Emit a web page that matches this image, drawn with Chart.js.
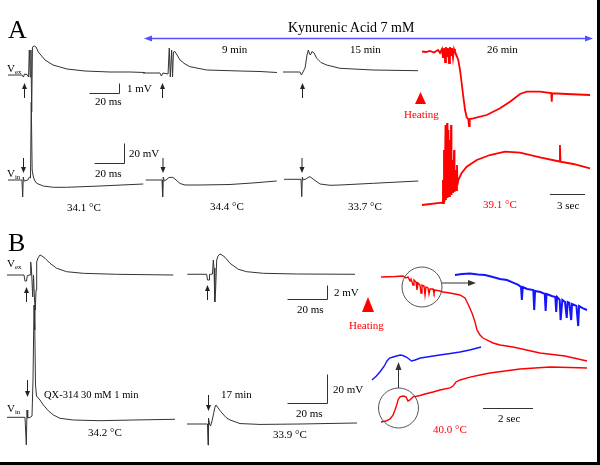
<!DOCTYPE html>
<html>
<head>
<meta charset="utf-8">
<script src="https://cdn.jsdelivr.net/npm/chart.js@4.4.1/dist/chart.umd.min.js"></script>
<style>
html, body { margin: 0; padding: 0; background: #fff; }
#wrap { position: relative; width: 600px; height: 465px; overflow: hidden; font-family: "Liberation Serif", "Times New Roman", serif; }
#wrap canvas { position: absolute; left: 0; top: 0; }
.lb { position: absolute; white-space: nowrap; line-height: 1; transform: translateY(-50%); color: #000; }
.lb sub { font-size: 0.62em; vertical-align: -0.3em; line-height: 0; }
</style>
</head>
<body>
<div id="wrap"><canvas id="fig" width="600" height="465"></canvas></div>
<script>
// ---- DATA (time in ms or s, potential in mV) -------------------------------------------------

// A, extracellular, control / 9 min / 15 min (ms, mV)
var aVexCtrlT = [0, 9.3, 10.3, 11, 12.7, 13.7, 14.2, 14.8, 15.3, 15.8, 16.3, 17.5, 18.7, 20.2, 24.7, 30, 39.3, 51.3, 68, 81.3, 91.3];
var aVexCtrlV = [-0.2, -0.2, -0.4, -0.1, -0.15, -0.4, 2.3, -0.4, 2.3, -3.9, 2.6, 2.7, 2.6, 2.1, 1.3, 0.8, 0.4, 0.2, 0.1, 0.1, 0.05];
var aVex9T = [2, 13.3, 14.3, 15.3, 18.7, 19.5, 20.2, 21.1, 21.7, 22.3, 23.3, 24.7, 26.7, 30, 33.3, 44.5, 66.7, 80, 91.3];
var aVex9V = [0, 0, -0.3, 0, -0.1, 2.5, -0.4, 2.3, -0.4, 2.1, 2.15, 1.8, 1.3, 0.9, 0.63, 0.3, 0.2, 0.15, 0.05];
var aVex15T = [0, 11.3, 12.3, 13.3, 14.7, 16, 16.9, 17.7, 18.3, 19.3, 20.7, 22.5, 25.3, 29.1, 38, 60, 90];
var aVex15V = [0.1, 0.1, -0.2, 0.1, 0.5, 1.8, 2.3, 1.9, 1.8, 2.15, 2.0, 1.47, 1.05, 0.8, 0.47, 0.3, 0.23];

// A, intracellular (ms, mV)
var aVinCtrlT = [0, 9.3, 9.8, 10.2, 10.7, 13.3, 14.3, 15, 15.5, 16.1, 16.9, 18, 19.1, 23.5, 30.2, 39.1, 61.3, 90.2];
var aVinCtrlV = [1, 1, -16, 4, 0, 1, 4, 3, 79, 11, 4, 0, -2.3, -5, -6.3, -6.3, -5, -3];
var aVin9T = [3.8, 14.7, 15.1, 15.5, 16.2, 17.3, 19.3, 21.8, 23.3, 26.7, 30, 40, 60, 76.7, 91.1];
var aVin9V = [1, 1, -16, 4, 0, 1, 3.5, 3.7, 2, -2.5, -4, -4, -3.5, -1.8, 0];
var aVin15T = [0.7, 12, 12.5, 12.9, 13.5, 15.3, 16.7, 18, 20, 24.7, 31.3, 38, 60.2, 90.2];
var aVin15V = [1.7, 1.7, -15.7, 4, 1, 2, 3.5, 4.3, 2, -3, -4.3, -4, -2.3, 0];

// A, 26 min, heating (s, mV)
var aRedExT = [0, 0.34, 0.68, 1.03, 1.37, 1.54, 1.71, 1.79, 1.88, 1.97, 2.05, 2.14, 2.22, 2.31, 2.39, 2.48, 2.56, 2.65, 2.74, 2.82, 3.10, 3.25, 3.39, 3.53, 3.68, 3.82, 3.96, 4.02, 4.08, 4.38, 5.53, 6.67, 7.52, 8.38, 8.95, 10.09, 11.04, 11.09, 11.13, 12.37, 14.36];
var aRedExV = [0.05, 0, 0.1, -0.05, 0.2, -0.1, 0.3, -0.6, 0.4, -1.0, 0.5, -0.4, 0.4, -1.1, 0.5, -0.3, 0.4, -0.6, 0.3, 0.03, -0.8, -1.8, -3.1, -4.47, -5.8, -6.53, -6.73, -7.4, -6.7, -6.63, -6.3, -5.63, -4.97, -4.2, -3.97, -3.97, -4.1, -4.97, -4.13, -4.2, -4.3];
var aRedInT = [0, 1.68, 1.71, 1.79, 1.84, 1.88, 1.92, 2.01, 2.05, 2.14, 2.18, 2.26, 2.31, 2.39, 2.44, 2.48, 2.52, 2.61, 2.65, 2.74, 2.78, 2.86, 2.91, 2.99, 3.03, 3.10, 3.39, 3.82, 4.68, 5.81, 7.09, 8.38, 10.09, 11.75, 11.79, 11.84, 12.93, 14.36];
var aRedInV = [-1, 1.3, 1, 24, 1, 54, 2, 79, 4, 81, 6, 74, 8, 64, 10, 79, 9, 44, 11, 54, 12, 34, 14, 39, 19, 24, 31, 37.3, 44, 49, 52.3, 51.3, 46.7, 42.5, 59, 42.3, 40, 35.7];

// B, control / 17 min (ms, mV)
var bVexCtrlT = [0, 8.5, 9, 9.75, 10.15, 11.5, 11.85, 12.25, 12.85, 13.25, 13.75, 14.15, 14.5, 14.85, 15.5, 16.5, 17.5, 19, 21.5, 24.85, 29.85, 38.15, 54.85, 83.15];
var bVexCtrlV = [0, 0, -0.86, -0.86, -0.07, 0, 1.86, 0.71, -3.14, 0, -3.57, -5.0, -2.14, 1.86, 2.43, 2.86, 2.71, 2.39, 1.67, 0.96, 0.47, 0.24, 0.1, 0];
var bVex17T = [0.15, 9.85, 10.25, 11, 11.25, 12.75, 13.15, 13.5, 13.9, 14.3, 14.85, 15.5, 16.5, 17.5, 19, 21.5, 25.65, 29.85, 38.15, 54.85, 84];
var bVex17V = [-0.04, -0.04, -0.86, -0.86, -0.07, 0, 2.0, 0.86, -4.0, -2.29, 2.0, 2.57, 2.86, 2.71, 2.39, 1.53, 0.67, 0.33, 0.1, 0, -0.04];
var bVinCtrlT = [0, 9, 9.65, 10, 10.35, 11.5, 12.5, 13, 13.5, 13.9, 14.25, 14.75, 16.5, 18.15, 20.65, 23.15, 26.5, 33.15, 46.5, 63.15, 84];
var bVinCtrlV = [1.17, 1.17, -17.9, 6.2, 0.7, 1.03, 2.07, 26.9, 78.6, 61.4, 23.4, 15.9, 13.1, 9.7, 5.7, 2.8, 0.48, -0.7, -1.17, -0.7, -0.2];
var bVin17T = [0, 10.25, 10.5, 10.75, 11.25, 11.75, 12.5, 13.25, 14, 14.5, 15.25, 16.5, 17.5, 19.5, 21.5, 26.5, 36.5, 56.5, 85];
var bVin17V = [0, 0, -14.5, 4.1, 0, -1.4, 2.1, 6.9, 11.7, 13.1, 11.7, 9.3, 7.6, 4.5, 2.8, 0.3, -0.3, 0, 0.7];

// B, heating (s, mV) and the two enlarged pieces
var bRedExT = [0, 0.56, 0.88, 1.0, 1.08, 1.16, 1.2, 1.28, 1.32, 1.4, 1.44, 1.48, 1.56, 1.6, 1.64, 1.72, 1.76, 1.8, 1.88, 1.92, 1.96, 2.08, 2.12, 2.16, 2.36, 2.48, 2.76, 3.16, 3.36, 3.48, 3.64, 3.76, 3.84, 3.96, 4.08, 4.48, 4.76, 5.28, 6.36, 7.36, 8.24];
var bRedExV = [-0.14, -0.07, 0, -0.29, -0.14, -0.71, -0.43, -1.29, -0.57, -0.86, -2.0, -1.0, -1.29, -2.43, -1.29, -1.43, -2.71, -1.57, -1.71, -2.57, -1.86, -1.86, -2.43, -2.0, -2.14, -2.29, -2.43, -2.71, -3.14, -4.0, -5.29, -6.57, -7.71, -8.43, -8.86, -9.57, -9.86, -10.14, -11.0, -11.43, -12.14];
var bBlueExT = [0, 0.08, 0.17, 0.26, 0.34, 0.43, 0.51, 0.59, 0.66, 0.72, 0.75, 0.76, 0.77, 0.82, 0.89, 0.90, 0.91, 0.97, 1.02, 1.03, 1.04, 1.10, 1.14, 1.15, 1.16, 1.19, 1.20, 1.22, 1.25, 1.27, 1.28, 1.30, 1.32, 1.33, 1.38, 1.40, 1.41, 1.45, 1.50];
var bBlueExV = [-0.07, 0, 0.03, -0.03, -0.07, -0.2, -0.33, -0.4, -0.57, -0.73, -0.87, -1.73, -0.87, -1.0, -1.07, -2.4, -1.13, -1.2, -1.33, -2.47, -1.33, -1.47, -1.53, -2.53, -1.53, -1.73, -3.07, -1.73, -1.87, -2.93, -1.87, -1.93, -3.07, -2.0, -2.13, -3.47, -2.13, -2.27, -2.4];
var bRedInT = [0, 0.2, 0.36, 0.48, 0.56, 0.64, 0.68, 0.76, 0.88, 1.0, 1.08, 1.16, 1.28, 1.56, 1.76, 2.08, 2.36, 2.76, 2.88, 3.0, 3.16, 3.56, 3.96, 4.36, 4.96, 5.56, 6.16, 6.76, 7.56, 8.24];
var bRedInV = [-0.7, 0, 1.4, 4.1, 7.6, 11.7, 14.5, 16.6, 17.2, 16.6, 13.8, 14.5, 16.6, 17.6, 18.6, 20.0, 21.4, 22.8, 24.1, 26.9, 28.3, 30.3, 31.7, 33.1, 34.5, 35.9, 36.6, 37.2, 36.9, 36.6];
var bBlueInT = [0, 0.05, 0.09, 0.14, 0.17, 0.20, 0.24, 0.28, 0.32, 0.35, 0.39, 0.42, 0.45, 0.49, 0.55, 0.66, 0.77, 0.89, 1.0, 1.11, 1.24];
var bBlueInV = [0, 1.33, 2.67, 4.67, 6.33, 7.33, 7.67, 8.0, 8.33, 8.17, 7.67, 7.0, 6.33, 6.67, 7.33, 7.83, 8.33, 8.83, 9.33, 10.0, 11.0];

// ---- LAYOUT --------------------------------------------------------------------------------
var W = 600, H = 465;
var BLACK = '#333', RED = '#ff0000', BLUE = '#1414ff';

// x0/y0 = pixel of t=0, V=0 ; sx/sy = pixels per unit
var traces = [
    { id: 'aVexCtrl', t: aVexCtrlT, v: aVexCtrlV, x0: 8,   y0: 73,  sx: 1.5,  sy: 10,   c: BLACK, w: 1 },
    { id: 'aVex9',    t: aVex9T,    v: aVex9V,    x0: 140, y0: 73,  sx: 1.5,  sy: 10,   c: BLACK, w: 1 },
    { id: 'aVex15',   t: aVex15T,   v: aVex15V,   x0: 283, y0: 73,  sx: 1.5,  sy: 10,   c: BLACK, w: 1 },
    { id: 'aVinCtrl', t: aVinCtrlT, v: aVinCtrlV, x0: 8,   y0: 181, sx: 1.5,  sy: 1,    c: BLACK, w: 1 },
    { id: 'aVin9',    t: aVin9T,    v: aVin9V,    x0: 140, y0: 181, sx: 1.5,  sy: 1,    c: BLACK, w: 1 },
    { id: 'aVin15',   t: aVin15T,   v: aVin15V,   x0: 283, y0: 181, sx: 1.5,  sy: 1,    c: BLACK, w: 1 },
    { id: 'aRedEx',   t: aRedExT,   v: aRedExV,   x0: 422, y0: 52,  sx: 11.7, sy: 10,   c: RED,   w: 1.8 },
    { id: 'aRedIn',   t: aRedInT,   v: aRedInV,   x0: 422, y0: 204, sx: 11.7, sy: 1,    c: RED,   w: 1.8 },
    { id: 'bVexCtrl', t: bVexCtrlT, v: bVexCtrlV, x0: 7,   y0: 275, sx: 2,    sy: 7,    c: BLACK, w: 1 },
    { id: 'bVex17',   t: bVex17T,   v: bVex17V,   x0: 187, y0: 274, sx: 2,    sy: 7,    c: BLACK, w: 1 },
    { id: 'bVinCtrl', t: bVinCtrlT, v: bVinCtrlV, x0: 7,   y0: 419, sx: 2,    sy: 1.45, c: BLACK, w: 1 },
    { id: 'bVin17',   t: bVin17T,   v: bVin17V,   x0: 187, y0: 424, sx: 2,    sy: 1.45, c: BLACK, w: 1 },
    { id: 'bRedEx',   t: bRedExT,   v: bRedExV,   x0: 381, y0: 276, sx: 25,   sy: 7,    c: RED,   w: 1.4 },
    { id: 'bBlueEx',  t: bBlueExT,  v: bBlueExV,  x0: 455, y0: 274, sx: 88,   sy: 15,   c: BLUE,  w: 2 },
    { id: 'bRedIn',   t: bRedInT,   v: bRedInV,   x0: 381, y0: 421, sx: 25,   sy: 1.45, c: RED,   w: 1.4 },
    { id: 'bBlueIn',  t: bBlueInT,  v: bBlueInV,  x0: 372, y0: 380, sx: 88,   sy: 3,    c: BLUE,  w: 1.4 }
];

var scales = { x: { display: false }, y: { display: false } };
var datasets = traces.map(function(tr) {
    scales['x_' + tr.id] = { type: 'linear', axis: 'x', display: false, bounds: 'data', min: -tr.x0 / tr.sx, max: (W - tr.x0) / tr.sx };
    scales['y_' + tr.id] = { type: 'linear', axis: 'y', display: false, bounds: 'data', min: (tr.y0 - H) / tr.sy, max: tr.y0 / tr.sy };
    return {
        label: tr.id,
        data: tr.t.map(function(t, k) { return { x: t, y: tr.v[k] }; }),
        xAxisID: 'x_' + tr.id,
        yAxisID: 'y_' + tr.id,
        showLine: true,
        borderColor: tr.c,
        borderWidth: tr.w,
        pointRadius: 0,
        tension: 0,
        fill: false
    };
});

function arrow(ctx, x1, y1, x2, y2, head, half, color, lw) {
    var a = Math.atan2(y2 - y1, x2 - x1);
    var bx = x2 - head * Math.cos(a), by = y2 - head * Math.sin(a);
    ctx.strokeStyle = color; ctx.fillStyle = color; ctx.lineWidth = lw || 1;
    ctx.beginPath(); ctx.moveTo(x1, y1); ctx.lineTo(bx, by); ctx.stroke();
    ctx.beginPath();
    ctx.moveTo(x2, y2);
    ctx.lineTo(bx - half * Math.sin(a), by + half * Math.cos(a));
    ctx.lineTo(bx + half * Math.sin(a), by - half * Math.cos(a));
    ctx.closePath(); ctx.fill();
}

// L-shaped calibration bar: corner at (cx, cy), lengths through the trace's own scales
function calBar(chart, id, cx, cy, dt, dv) {
    var xs = chart.scales['x_' + id], ys = chart.scales['y_' + id];
    var lx = xs.getPixelForValue(dt) - xs.getPixelForValue(0);
    var ctx = chart.ctx;
    ctx.strokeStyle = '#333'; ctx.lineWidth = 1;
    ctx.beginPath();
    ctx.moveTo(cx - lx, cy);
    ctx.lineTo(cx, cy);
    if (dv) {
        var ly = ys.getPixelForValue(0) - ys.getPixelForValue(dv);
        ctx.lineTo(cx, cy - ly);
    }
    ctx.stroke();
}

function triangle(ctx, x, top, bottom, half) {
    ctx.fillStyle = RED;
    ctx.beginPath();
    ctx.moveTo(x, top); ctx.lineTo(x + half, bottom); ctx.lineTo(x - half, bottom);
    ctx.closePath(); ctx.fill();
}

var marks = {
    id: 'marks',
    afterDraw: function(chart) {
        var ctx = chart.ctx;
        ctx.save();
        // kynurenic acid period
        arrow(ctx, 300, 38.5, 144, 38.5, 8, 3, 'rgb(80,80,255)', 1.5);
        arrow(ctx, 300, 38.5, 593, 38.5, 8, 3, 'rgb(80,80,255)', 1.5);
        // stimulus markers
        [24, 162, 302].forEach(function(x) { arrow(ctx, x + 0.5, 98, x + 0.5, 83, 6, 2.5, '#222', 1); });
        [23, 162.5, 301.5].forEach(function(x) { arrow(ctx, x + 0.5, 158, x + 0.5, 173, 6, 2.5, '#222', 1); });
        arrow(ctx, 26.5, 302, 26.5, 287, 6, 2.5, '#222', 1);
        arrow(ctx, 207.5, 300, 207.5, 285, 6, 2.5, '#222', 1);
        arrow(ctx, 27.5, 380, 27.5, 397, 6, 2.5, '#222', 1);
        arrow(ctx, 208.5, 395, 208.5, 411, 6, 2.5, '#222', 1);
        // calibration bars
        calBar(chart, 'aVexCtrl', 119.5, 93.5, 20, 1);
        calBar(chart, 'aVinCtrl', 124.5, 163.5, 20, 20);
        calBar(chart, 'aRedEx', 585, 194.5, 3, 0);
        calBar(chart, 'bVexCtrl', 327.5, 299.5, 20, 2);
        calBar(chart, 'bVinCtrl', 327.5, 403.5, 20, 20);
        calBar(chart, 'bRedEx', 533, 408.5, 2, 0);
        // heating
        triangle(ctx, 420.5, 92, 104, 5.5);
        triangle(ctx, 368, 297, 312, 6);
        // circles + zoom arrows
        ctx.strokeStyle = '#555'; ctx.lineWidth = 1;
        ctx.beginPath(); ctx.arc(422, 287, 20, 0, Math.PI * 2); ctx.stroke();
        ctx.beginPath(); ctx.arc(398.5, 408, 20, 0, Math.PI * 2); ctx.stroke();
        arrow(ctx, 442, 283, 476, 283, 8, 3, '#333', 1);
        arrow(ctx, 398.5, 388, 398.5, 362, 8, 3, '#333', 1);
        // frame shadow
        ctx.fillStyle = '#000';
        ctx.fillRect(597, 0, 3, H);
        ctx.fillRect(0, 462, W, 3);
        ctx.restore();
    }
};

new Chart(document.getElementById('fig').getContext('2d'), {
    type: 'scatter',
    data: { datasets: datasets },
    options: {
        responsive: false,
        animation: false,
        layout: { padding: 0 },
        scales: scales,
        plugins: { legend: { display: false }, tooltip: { enabled: false }, title: { display: false } },
        elements: { line: { borderCapStyle: 'butt', borderJoinStyle: 'miter' } }
    },
    plugins: [marks]
});

// ---- TEXT ----------------------------------------------------------------------------------
var labels = [
    ['A', 8, 29.5, 26, '#000'],
    ['B', 8, 242.5, 26, '#000'],
    ['Kynurenic Acid 7 mM', 288, 28, 14, '#000'],
    ['9 min', 222, 48.5, 11, '#000'],
    ['15 min', 350, 48.5, 11, '#000'],
    ['26 min', 487, 48.5, 11, '#000'],
    ['V<sub>ex</sub>', 7, 68, 11, '#000'],
    ['1 mV', 127, 88, 11, '#000'],
    ['20 ms', 95, 101, 11, '#000'],
    ['Heating', 404, 113.5, 11, RED],
    ['20 mV', 129, 153, 11, '#000'],
    ['20 ms', 95, 173, 11, '#000'],
    ['V<sub>in</sub>', 7, 173, 11, '#000'],
    ['34.1 \u00b0C', 67, 207, 11, '#000'],
    ['34.4 \u00b0C', 210, 206, 11, '#000'],
    ['33.7 \u00b0C', 348, 206, 11, '#000'],
    ['39.1 \u00b0C', 483, 204, 11, RED],
    ['3 sec', 557, 204.5, 11, '#000'],
    ['V<sub>ex</sub>', 7, 263, 11, '#000'],
    ['2 mV', 334, 292, 11, '#000'],
    ['20 ms', 297, 309, 11, '#000'],
    ['Heating', 349, 325, 11, RED],
    ['QX-314 30 mM 1 min', 44, 395, 10.5, '#000'],
    ['V<sub>in</sub>', 7, 408, 11, '#000'],
    ['34.2 \u00b0C', 88, 432, 11, '#000'],
    ['17 min', 221, 394, 11, '#000'],
    ['20 mV', 333, 389, 11, '#000'],
    ['20 ms', 296, 413, 11, '#000'],
    ['33.9 \u00b0C', 273, 434, 11, '#000'],
    ['40.0 \u00b0C', 433, 429, 11, RED],
    ['2 sec', 498, 418, 11, '#000']
];

var wrap = document.getElementById('wrap');
labels.forEach(function(l) {
    var d = document.createElement('div');
    d.className = 'lb';
    d.innerHTML = l[0];
    d.style.left = l[1] + 'px';
    d.style.top = l[2] + 'px';
    d.style.fontSize = l[3] + 'px';
    d.style.color = l[4];
    wrap.appendChild(d);
});
</script>
</body>
</html>
